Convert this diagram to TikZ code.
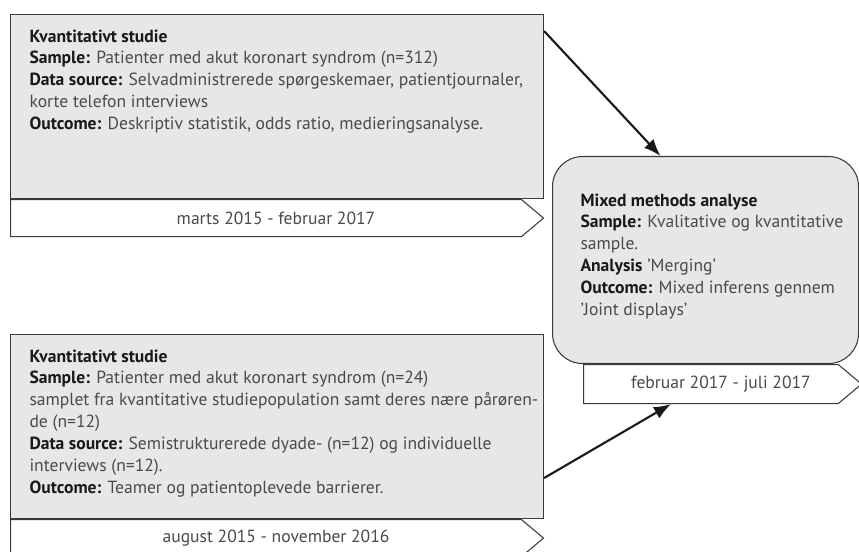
\documentclass[tikz,border=0pt]{standalone}
\usepackage{fontspec}
\setmainfont{PT Sans}
\usetikzlibrary{arrows.meta}
\usetikzlibrary{shapes.symbols}
\definecolor{boxgray}{HTML}{E6E7E8}
\definecolor{linegray}{HTML}{3A3A3A}
\definecolor{textgray}{HTML}{4A4A4C}
\tikzstyle{every picture}=[line width=0.6pt]
\tikzstyle{studybox}=[rectangle, draw=linegray, fill=boxgray, anchor=north west, minimum width=10.66cm, minimum height=3.68cm, inner sep=0pt]
\tikzstyle{mixbox}=[rectangle, draw=linegray, fill=boxgray, rounded corners=0.6cm, anchor=north west, minimum width=6.12cm, minimum height=4.14cm, inner sep=0pt]
\tikzstyle{boxtext}=[anchor=north west, inner sep=0pt, align=left, text=textgray, font=\fontsize{10}{12.5}\selectfont]
\tikzstyle{dateband}=[signal, signal to=east, signal pointer angle=80, draw=linegray, fill=white, anchor=north west, inner sep=0pt, text=textgray, font=\fontsize{10}{12.5}\selectfont, execute at begin node={\hspace*{0.4cm}}]
\tikzstyle{flowarrow}=[-{Latex[length=0.34cm,width=0.26cm]}, line width=1.2pt, black!90]
\newcommand{\hd}[1]{\textbf{\color{black!90}#1}}

\begin{document}
\begin{tikzpicture}
	\useasboundingbox (0,0) rectangle (17.18,-11.04);

	\path (0.2,-0.28) node[studybox] (studie_1) {}
	      (11.04,-3.12) node[mixbox] (mixed) {}
	      (0.2,-6.68) node[studybox] (studie_2) {};

	% tidslinjer under boksene
	\path (studie_1.south west) node[dateband, minimum width=10.66cm, minimum height=0.74cm] (date_1) {marts 2015 - februar 2017}
	      ([xshift=0.62cm]mixed.south west) node[dateband, minimum width=5.56cm, minimum height=0.78cm] (date_2) {februar 2017 - juli 2017}
	      (studie_2.south west) node[dateband, minimum width=10.66cm, minimum height=0.74cm] (date_3) {august 2015 - november 2016};

	\node[boxtext] (text_1) at ([shift={(0.38cm,-0.3cm)}]studie_1.north west) {\hd{Kvantitativt studie}\\
		\hd{Sample:} Patienter med akut koronart syndrom (n=312)\\
		\hd{Data source:} Selvadministrerede spørgeskemaer, patientjournaler,\\
		korte telefon interviews\\
		\hd{Outcome:} Deskriptiv statistik, odds ratio, medieringsanalyse.};

	\node[boxtext] (text_2) at ([shift={(0.56cm,-0.74cm)}]mixed.north west) {\hd{Mixed methods analyse}\\
		\hd{Sample:} Kvalitative og kvantitative\\
		sample.\\
		\hd{Analysis} ’Merging’\\
		\hd{Outcome:} Mixed inferens gennem\\
		’Joint displays’};

	\node[boxtext] (text_3) at ([shift={(0.38cm,-0.3cm)}]studie_2.north west) {\hd{Kvantitativt studie}\\
		\hd{Sample:} Patienter med akut koronart syndrom (n=24)\\
		samplet fra kvantitative studiepopulation samt deres nære pårøren-\\
		de (n=12)\\
		\hd{Data source:} Semistrukturerede dyade- (n=12) og individuelle\\
		interviews (n=12).\\
		\hd{Outcome:} Teamer og patientoplevede barrierer.};

	\draw[flowarrow] ([yshift=-0.34cm]studie_1.north east) -- ([xshift=-0.9cm]mixed.north);
	\draw[flowarrow] ([yshift=0.82cm]studie_2.south east) -- ([xshift=-0.8cm]date_2.south);

\end{tikzpicture}
\end{document}
